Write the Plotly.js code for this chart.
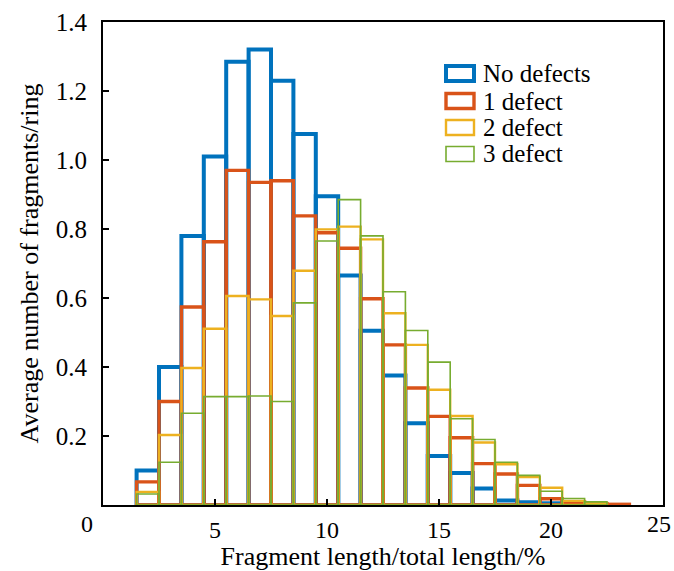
<!DOCTYPE html>
<html>
<head>
<meta charset="utf-8">
<script src="https://cdn.plot.ly/plotly-3.0.1.min.js"></script>
<style>html,body{margin:0;padding:0;background:#fff;}#chart{width:674px;height:571px;}</style>
</head>
<body>
<div id="chart"></div>
<script>
// Bin centres (fragment length / total length, %)
const binCenters = [2,3,4,5,6,7,8,9,10,11,12,13,14,15,16,17,18,19,20,21,22,23];
const noDefects = [0.100,0.400,0.780,1.010,1.285,1.320,1.230,1.075,0.895,0.665,0.505,0.375,0.237,0.142,0.093,0.048,0.013,0.008,0.005,null,null,null];
const oneDefect = [0.067,0.300,0.574,0.763,0.970,0.935,0.940,0.838,0.789,0.744,0.598,0.464,0.339,0.257,0.195,0.120,0.090,0.057,0.018,0.009,0.004,0.002];
const twoDefect = [0.038,0.203,0.397,0.511,0.606,0.596,0.548,0.679,0.799,0.807,0.770,0.556,0.464,0.334,0.258,0.181,0.118,0.081,0.050,0.012,0.005,null];
const threeDefect = [0.032,0.124,0.266,0.314,0.314,0.316,0.300,0.586,0.765,0.885,0.780,0.618,0.506,0.414,0.250,0.190,0.124,0.086,0.040,0.019,0.009,null];
const seriesNames = ['No defects','1 defect','2 defect','3 defect'];
const yTickVals = [0.2,0.4,0.6,0.8,1.0,1.2,1.4];
const xTickVals = [5,10,15,20,25];
const xTickText = ['5','10','15','20',''];   // '25' is drawn as an edge annotation so it is not clipped
const xEdgeLabels = ['0','25'];

const colors = ['#0072BD','#D95319','#EDB120','#77AC30'];
const widths = [4,3.4,2.4,1.6];
const allData = [noDefects, oneDefect, twoDefect, threeDefect];
const FONT = 'Liberation Serif, Times New Roman, serif';
const TICK_FS = 25, XTICK_FS = 24, TITLE_FS = 26, LEG_FS = 25;

const traces = allData.map((vals, i) => ({
  type: 'bar',
  x: binCenters,
  y: vals,
  width: 1,
  name: seriesNames[i],
  marker: {color: 'rgba(0,0,0,0)', line: {color: colors[i], width: widths[i]}},
  showlegend: false,
  hoverinfo: 'x+y'
}));

// plot area in pixels
const L = 103, R = 663, T = 22, B = 505;
const W = R - L, H = B - T;
const px2x = p => (p - L) / W;
const py2y = p => (B - p) / H;

const rowY = [73.5, 101, 127.5, 154];
const shapes = [];
const annotations = [];
rowY.forEach((cy, i) => {
  shapes.push({
    type: 'rect', xref: 'paper', yref: 'paper',
    x0: px2x(446), x1: px2x(474), y0: py2y(cy + 7.5), y1: py2y(cy - 7.5),
    line: {color: colors[i], width: widths[i]}, fillcolor: 'rgba(0,0,0,0)'
  });
  annotations.push({
    xref: 'paper', yref: 'paper', x: px2x(481), y: py2y(cy),
    xanchor: 'left', yanchor: 'middle', showarrow: false,
    text: seriesNames[i], font: {family: FONT, size: LEG_FS, color: '#000'}
  });
});
annotations.push({
  xref: 'paper', yref: 'paper', x: px2x(87), y: py2y(524),
  xanchor: 'center', yanchor: 'middle', showarrow: false,
  text: xEdgeLabels[0], font: {family: FONT, size: XTICK_FS, color: '#000'}
});
annotations.push({
  xref: 'paper', yref: 'paper', x: px2x(673), y: py2y(524),
  xanchor: 'right', yanchor: 'middle', showarrow: false,
  text: xEdgeLabels[1], font: {family: FONT, size: XTICK_FS, color: '#000'}
});

const layout = {
  width: 674, height: 571,
  margin: {l: L, r: 674 - R, t: T, b: 571 - B, pad: 0},
  paper_bgcolor: '#fff', plot_bgcolor: '#fff',
  barmode: 'overlay',
  font: {family: FONT, size: TICK_FS, color: '#000'},
  xaxis: {
    range: [0, 25], tickvals: xTickVals, ticktext: xTickText, ticks: 'inside', ticklen: 6, tickwidth: 1.5, tickcolor: '#000',
    tickfont: {family: FONT, size: XTICK_FS},
    showline: true, linecolor: '#000', linewidth: 2, mirror: true, showgrid: false, zeroline: false,
    ticklabelstandoff: 2,
    title: {text: 'Fragment length/total length/%', font: {family: FONT, size: TITLE_FS}, standoff: 5}
  },
  yaxis: {
    range: [0, 1.4], tickvals: yTickVals, tickformat: '.1f', ticks: 'inside', ticklen: 6, tickwidth: 1.5, tickcolor: '#000',
    showline: true, linecolor: '#000', linewidth: 2, mirror: true, showgrid: false, zeroline: false,
    ticklabelstandoff: 9,
    title: {text: 'Average number of fragments/ring', font: {family: FONT, size: TITLE_FS}, standoff: 10}
  },
  shapes: shapes,
  annotations: annotations
};

Plotly.newPlot('chart', traces, layout, {displayModeBar: false, staticPlot: true});
</script>
</body>
</html>
